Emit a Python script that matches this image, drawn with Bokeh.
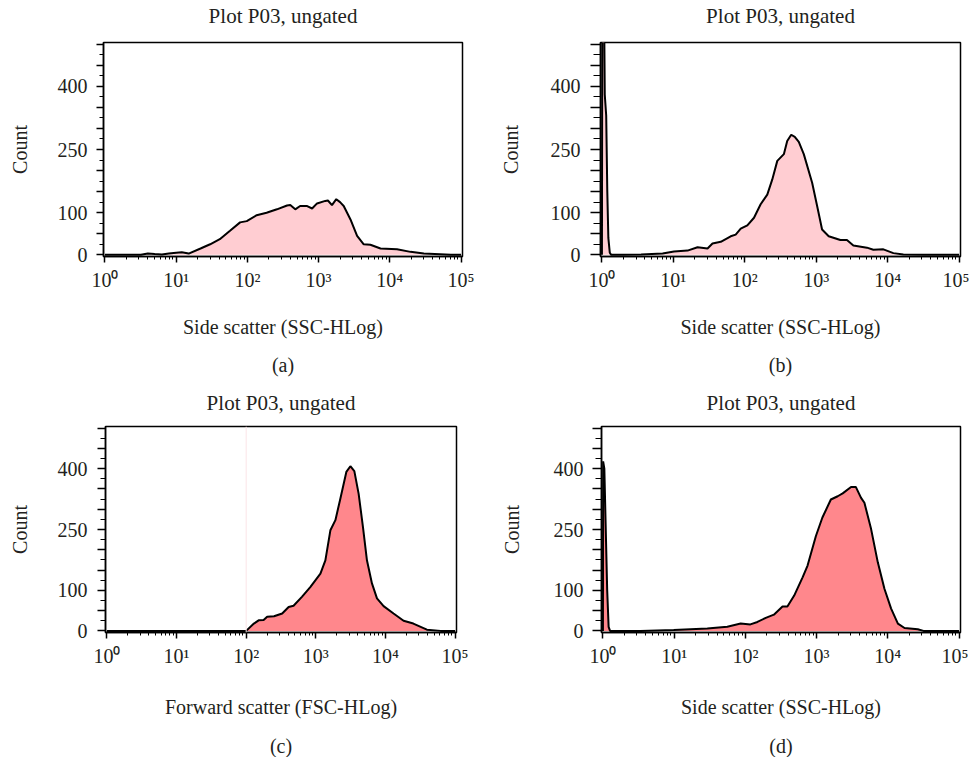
from bokeh.plotting import figure
from bokeh.models import FixedTicker, Title, Span
from bokeh.layouts import column, row
from bokeh.embed import file_html
from bokeh.resources import INLINE

# ---------------- data ----------------
TITLE = "Plot P03, ungated"
Y_LABEL = "Count"
X_LABELS = ["Side scatter (SSC-HLog)", "Side scatter (SSC-HLog)",
            "Forward scatter (FSC-HLog)", "Side scatter (SSC-HLog)"]
TAGS = ["(a)", "(b)", "(c)", "(d)"]

Y_LABELLED = [0, 100, 250, 400]
Y_MAJOR = [0, 50, 100, 150, 200, 250, 300, 350, 400, 450, 500]
Y_MINOR = [25, 75, 125, 175, 225, 275, 325, 375, 425, 475]
X_DECADES = [1, 10, 100, 1000, 10000, 100000]
X_DECADE_LABELS = ["10⁰", "10¹", "10²", "10³", "10⁴", "10⁵"]
X_MINOR_MULT = [2, 3, 4, 5, 6, 7, 8, 9]

# panel (a)
a_x = [1, 3.2, 4, 5, 6.3, 7.9, 10, 12, 15, 22, 30, 41, 57, 79, 98, 135, 186, 260,
       360, 400, 470, 550, 680, 810, 950, 1240, 1350, 1540, 1770, 2000, 2250, 2800,
       3470, 4300, 5330, 7400, 12600, 19500, 30000, 72000, 100000]
a_y = [0, 0, 3, 2, 1, 3, 5, 6, 3, 15, 25, 37, 57, 77, 80, 94, 100, 108,
       117, 118, 108, 116, 116, 110, 122, 128, 129, 118, 132, 125, 116, 84,
       45, 25, 24, 15, 13, 7, 3, 0, 0]

# panel (b)
b_x = [1.0, 1.012, 1.059, 1.096, 1.148, 1.189, 1.23, 1.288, 1.349, 2.0, 3.53, 5.0,
       7.08, 10.2, 15.8, 21.8, 30.1, 35.3, 46.1, 63.5, 74.6, 87.7, 108.6, 134.6,
       166.7, 206.5, 242.7, 285.1, 352.4, 392.6, 446.7, 501, 570.2, 669.9, 877,
       1030, 1208, 1496, 2178, 2692, 3311, 5129, 6310, 8710, 12023, 16596, 31623,
       100000]
b_y = [0, 600, 700, 380, 330, 150, 40, 5, 0, 0, 1, 2,
       3, 8, 10, 18, 15, 27, 31, 44, 48, 62, 70, 88,
       120, 143, 179, 223, 239, 270, 285, 280, 268, 239, 171,
       116, 60, 44, 35, 35, 22, 17, 12, 13, 4, 1, 0,
       0]

# panel (c)
c_x = [1, 100, 129, 151, 178, 200, 251, 329, 407, 479, 631, 832, 1164, 1371, 1618,
       1910, 2249, 2742, 3133, 3573, 4121, 4753, 5420, 6397, 7551, 9397, 13062,
       18197, 25119, 39355, 61660, 100000]
c_y = [0, 0, 18, 26, 27, 35, 36, 43, 59, 62, 84, 108, 141, 174, 248,
       273, 326, 392, 406, 394, 338, 256, 174, 117, 80, 61, 43,
       25, 18, 3, 0, 0]
c_gate = 100

# panel (d)
d_x = [1.0, 1.007, 1.047, 1.096, 1.148, 1.202, 1.259, 3.35, 9.86, 29.2, 55.7, 85.9,
       117.5, 147.6, 193.2, 251.2, 331.9, 389, 484.2, 635.3, 746.4, 977.2, 1202,
       1585, 1977, 2323, 3041, 3548, 4207, 4688, 5821, 7228, 8954, 11117, 13836,
       17140, 26303, 31623, 100000]
d_y = [0, 418, 400, 250, 100, 10, 0, 0, 2, 6, 10, 18,
       16, 22, 32, 40, 60, 60, 87, 132, 161, 234, 279,
       324, 332, 339, 355, 355, 328, 316, 251, 169, 104, 55, 18,
       7, 4, 0, 0]

LIGHT = "#FFCDD2"
DARK = "#FF878C"
TEXT = "#231F20"
FONT = "Liberation Serif"
FS = "20px"


def panel(xs, ys, fill, xlabel, tag, fw, fh, bl, br, bt, bb, sty):
    p = figure(x_axis_type="log", x_range=(0.955, 104700), y_range=(-4, 504),
               frame_width=fw, frame_height=fh,
               min_border_left=bl, min_border_right=br,
               min_border_top=bt, min_border_bottom=bb,
               output_backend="svg", toolbar_location=None,
               background_fill_color="white", border_fill_color="white")
    p.outline_line_color = "black"
    p.outline_line_width = 1.5
    p.outline_line_alpha = 1
    p.xgrid.visible = False
    p.ygrid.visible = False

    p.title.text = TITLE
    p.title.align = "center"
    p.title.text_font = FONT
    p.title.text_font_size = "21px"
    p.title.text_font_style = "normal"
    p.title.text_color = TEXT
    p.title.standoff = 2
    # thin empty spacer between the title and the frame
    p.add_layout(Title(text=" ", text_font_size="2px", standoff=sty["gap"]), "above")

    xminor = [m * d for d in X_DECADES[:-1] for m in X_MINOR_MULT]
    p.xaxis.ticker = FixedTicker(ticks=X_DECADES, minor_ticks=xminor)
    p.xaxis.major_label_overrides = {d: l for d, l in zip(X_DECADES, X_DECADE_LABELS)}
    p.yaxis.ticker = FixedTicker(ticks=Y_MAJOR, minor_ticks=Y_MINOR)
    p.yaxis.major_label_overrides = {v: (str(v) if v in Y_LABELLED else "") for v in Y_MAJOR}

    for ax in (p.xaxis, p.yaxis):
        ax.axis_line_color = "black"
        ax.axis_line_width = 1.5
        ax.major_tick_line_color = "black"
        ax.minor_tick_line_color = "black"
        ax.major_tick_line_width = 1.5
        ax.minor_tick_line_width = 1
        ax.major_tick_in = 0
        ax.minor_tick_in = 0
        ax.major_label_text_font = FONT
        ax.major_label_text_font_size = FS
        ax.major_label_text_color = TEXT
        ax.axis_label_text_font = FONT
        ax.axis_label_text_font_size = FS
        ax.axis_label_text_font_style = "normal"
        ax.axis_label_text_color = TEXT
    p.xaxis.major_tick_out = 6
    p.xaxis.minor_tick_out = 3
    p.yaxis.major_tick_out = sty["ytick"]
    p.yaxis.minor_tick_out = sty["ytick"] - 3
    p.xaxis.major_label_standoff = sty["xls"]
    p.yaxis.major_label_standoff = sty["yls"]
    p.xaxis.axis_label = xlabel
    p.yaxis.axis_label = Y_LABEL
    p.xaxis.axis_label_standoff = sty["xas"]
    p.yaxis.axis_label_standoff = sty["yas"]

    p.varea(x=xs, y1=[0] * len(xs), y2=ys, fill_color=fill, fill_alpha=1)
    p.line(x=xs, y=ys, line_color="black", line_width=2)

    p.add_layout(Title(text=tag, align="center", text_font=FONT, text_font_size=FS,
                       text_font_style="normal", text_color=TEXT, standoff=sty["tag"]), "below")
    return p


top = dict(gap=10, xls=6, xas=22, tag=22)
bot = dict(gap=7, xls=6, xas=26, tag=24)

pa = panel(a_x, a_y, LIGHT, X_LABELS[0], TAGS[0], 359, 214, 103, 22, 42, 129,
           dict(top, ytick=7, yls=9, yas=24))
pb = panel(b_x, b_y, LIGHT, X_LABELS[1], TAGS[1], 360, 214, 116, 9, 42, 129,
           dict(top, ytick=10, yls=10, yas=26))
pc = panel(c_x, c_y, DARK, X_LABELS[2], TAGS[2], 351, 206, 105, 28, 40, 126,
           dict(bot, ytick=8, yls=10, yas=24))
pd = panel(d_x, d_y, DARK, X_LABELS[3], TAGS[3], 359, 206, 117, 8, 40, 126,
           dict(bot, ytick=9, yls=9, yas=28))
pc.add_layout(Span(location=c_gate, dimension="height", line_color="#FBE4E7", line_width=1))

layout = column(row(pa, pb), row(pc, pd))
open("out.html", "w").write(file_html(layout, INLINE))
